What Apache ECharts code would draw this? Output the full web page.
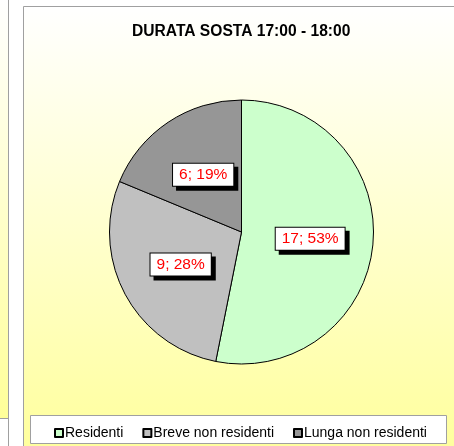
<!DOCTYPE html>
<html>
<head>
<meta charset="utf-8">
<script src="https://cdn.jsdelivr.net/npm/echarts@6/dist/echarts.min.js"></script>
<style>
html, body { margin: 0; padding: 0; background: #fff; }
#chart { width: 454px; height: 446px; }
</style>
</head>
<body>
<div id="chart"></div>
<script>
var categories = ['Residenti', 'Breve non residenti', 'Lunga non residenti'];
var values = [17, 9, 6];
var colors = ['#CCFFCC', '#C0C0C0', '#969696'];
var titleText = 'DURATA SOSTA 17:00 - 18:00';

function yellowFade(){
    return new echarts.graphic.LinearGradient(0, 0, 0, 1, [
        {offset: 0, color: '#ffffff'},
        {offset: 1, color: '#ffff99'}
    ]);
}

function drawPie(){
    var myChart = echarts.init(document.getElementById('chart'));
    var pieData = [];
    for (var i = 0; i < categories.length; i++) {
        pieData.push({name: categories[i], value: values[i], itemStyle: {color: colors[i]}});
    }
    var option = {
        animation: false,
        textStyle: {fontFamily: 'Liberation Sans, Arial, sans-serif'},
        graphic: [
            // left neighbour panel strip
            {type: 'rect', shape: {x: 0, y: 0, width: 8.5, height: 418}, style: {fill: yellowFade()}, z: -10},
            {type: 'line', shape: {x1: 8.5, y1: 0, x2: 8.5, y2: 446}, style: {stroke: '#a0a0a0', lineWidth: 1}, z: -9},
            {type: 'line', shape: {x1: 0, y1: 418.5, x2: 8.5, y2: 418.5}, style: {stroke: '#a0a0a0', lineWidth: 1}, z: -9},
            // main panel
            {type: 'rect', shape: {x: 23.5, y: 6.5, width: 450, height: 460},
             style: {fill: yellowFade(), stroke: '#a0a0a0', lineWidth: 1}, z: -10},
            // legend box
            {type: 'rect', shape: {x: 30.5, y: 415.5, width: 416, height: 28},
             style: {fill: '#ffffff', stroke: '#a0a0a0', lineWidth: 1}, z: -5},
            // title
            {type: 'text', left: 132, top: 24,
             style: {text: titleText, fill: '#000', font: 'bold 15.6px "Liberation Sans", Arial, sans-serif'}}
        ],
        legend: {
            data: categories,
            left: 49,
            top: 421,
            icon: 'rect',
            itemWidth: 8,
            itemHeight: 8,
            itemGap: 19,
            textStyle: {fontSize: 14, color: '#000', padding: [0, 0, 0, -3]}
        },
        series: [{
            type: 'pie',
            center: [241.5, 232],
            radius: 132,
            startAngle: 90,
            clockwise: true,
            percentPrecision: 0,
            silent: true,
            data: pieData,
            itemStyle: {borderColor: '#000', borderWidth: 1},
            label: {
                position: 'inside',
                formatter: '{c}; {d}%',
                color: '#ff0000',
                fontSize: 15.5,
                backgroundColor: '#ffffff',
                borderColor: '#000',
                borderWidth: 1,
                padding: [3, 6, 3, 6],
                shadowColor: '#000',
                shadowOffsetX: 4,
                shadowOffsetY: 4,
                shadowBlur: 0
            },
            labelLine: {show: false},
            emphasis: {disabled: true}
        }]
    };
    myChart.setOption(option);
}
window.onload = function(){
    drawPie();
}
</script>
</body>
</html>
